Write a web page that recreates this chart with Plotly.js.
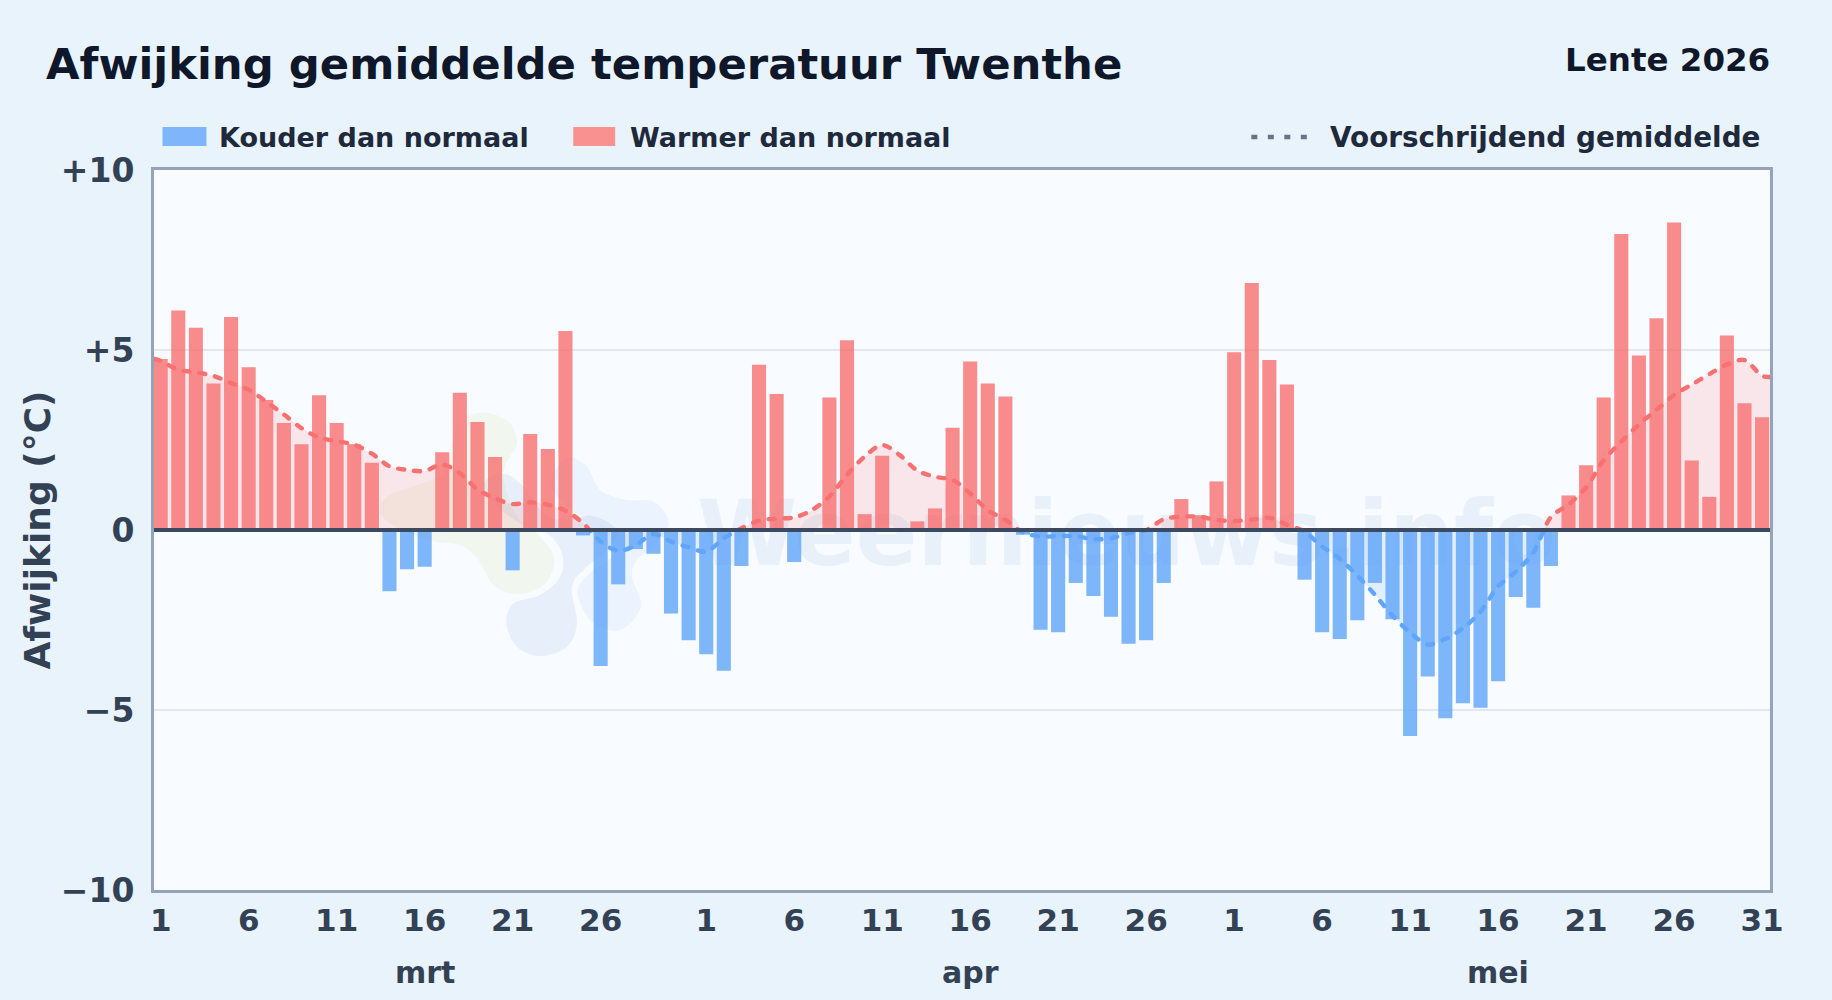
<!DOCTYPE html>
<html>
<head>
<meta charset="utf-8">
<script src="https://cdn.plot.ly/plotly-3.0.1.min.js"></script>
<style>
html,body{margin:0;padding:0;background:#e9f3fc;width:1832px;height:1000px;overflow:hidden}
#chart{width:1832px;height:1000px}
.scatterlayer .js-line{stroke-linecap:round}
</style>
</head>
<body>
<div id="chart"></div>
<script>
// ---- data ----
const devMrt = [4.75,6.10,5.62,4.07,5.92,4.52,3.61,2.97,2.38,3.74,2.97,2.38,1.87,-1.70,-1.09,-1.02,2.16,3.81,3.00,2.03,-1.12,2.67,2.25,5.53,-0.15,-3.78,-1.51,-0.53,-0.66,-2.32,-3.06];
const devApr = [-3.45,-3.91,-1.00,4.59,3.78,-0.89,0,3.68,5.27,0.44,2.06,0,0.24,0.60,2.84,4.68,4.07,3.71,-0.13,-2.77,-2.84,-1.47,-1.83,-2.41,-3.16,-3.06,-1.47,0.86,0.41,1.35];
const devMei = [4.94,6.86,4.72,4.04,-1.38,-2.84,-3.03,-2.51,-1.47,-2.48,-5.72,-4.07,-5.23,-4.81,-4.94,-4.20,-1.86,-2.16,-1.00,0.96,1.80,3.68,8.22,4.85,5.88,8.54,1.93,0.92,5.40,3.52,3.13];
const avgMrt = [4.70,4.45,4.38,4.28,4.08,3.90,3.56,3.21,2.83,2.57,2.47,2.37,2.12,1.77,1.67,1.64,1.82,1.58,1.13,0.88,0.72,0.77,0.70,0.54,0.19,-0.32,-0.58,-0.42,-0.11,-0.32,-0.48];
const avgApr = [-0.60,-0.23,0.05,0.26,0.32,0.35,0.55,0.93,1.53,2.04,2.36,2.08,1.65,1.48,1.39,1.02,0.55,0.28,-0.07,-0.18,-0.17,-0.17,-0.26,-0.23,-0.09,0,0.30,0.37,0.37,0.28];
const avgMei = [0.25,0.29,0.34,0.15,-0.05,-0.46,-0.80,-1.27,-1.80,-2.38,-2.85,-3.18,-3.03,-2.73,-2.27,-1.57,-1.16,-0.63,0.36,0.71,1.18,1.94,2.46,2.93,3.34,3.75,4.04,4.33,4.60,4.72,4.28];
const avgLeftEdge = 4.75, avgRightEdge = 4.25;
const xTickDays = [1,6,11,16,21,26,1,6,11,16,21,26,1,6,11,16,21,26,31];
const xTickIdx  = [0,5,10,15,20,25,31,36,41,46,51,56,61,66,71,76,81,86,91];
const months = ["mrt","apr","mei"];
const monthIdx = [15,46,76];
const yTicks = [10,5,0,-5,-10];
const yLabels = ["+10","+5","0","\u22125","\u221210"];
const seriesNames = ["Kouder dan normaal","Warmer dan normaal","Voorschrijdend gemiddelde"];
// ---- styling ----
const W=1832,H=1000,L=153.5,R=1770.5,T=170,B=890;
const XMIN=-0.38,XMAX=91.45;
const FONT='"DejaVu Sans", sans-serif';
const INK='#334155',LEG='#1e293b',TITLE='#0f172a';
const BLUE='#60a5fa',RED='#f87171';
const px=x=>(x-L)/(R-L), py=y=>(B-y)/(B-T);

const dev=[...devMrt,...devApr,...devMei];
const avg=[avgLeftEdge,...avgMrt,...avgApr,...avgMei,avgRightEdge];
const idx=dev.map((_,i)=>i);
const avgX=[XMIN,...idx,XMAX];

function blob(points,fill){
  // closed smooth outline through points given in crop coordinates of the logo
  const P=points.map(p=>[px(360+p[0]/3),py(390+p[1]/3)]);
  const n=P.length;let d=`M${P[0][0]},${P[0][1]}`;
  for(let i=0;i<n;i++){
    const a=P[(i-1+n)%n],b=P[i],c=P[(i+1)%n],e=P[(i+2)%n];
    d+=`C${b[0]+(c[0]-a[0])/6},${b[1]+(c[1]-a[1])/6} ${c[0]-(e[0]-b[0])/6},${c[1]-(e[1]-b[1])/6} ${c[0]},${c[1]}`;
  }
  return {type:'path',xref:'paper',yref:'paper',layer:'below',path:d+'Z',fillcolor:fill,line:{width:0}};
}
const rect=(x0,y0,x1,y1,fill)=>({type:'rect',xref:'paper',yref:'paper',layer:'above',x0:px(x0),x1:px(x1),y0:py(y0),y1:py(y1),fillcolor:fill,line:{width:0}});

const shapes=[
  {type:'rect',xref:'paper',yref:'paper',layer:'below',x0:0,x1:1,y0:0,y1:1,fillcolor:'#f8fbff',line:{width:0}},
  blob([[370,68],[445,95],[470,160],[440,215],[430,270],[470,380],[540,440],[582,510],[550,585],[470,612],[400,585],[355,510],[300,465],[225,455],[120,420],[60,370],[80,320],[170,285],[250,250],[275,170],[300,95]],'rgba(190,220,120,0.13)'),
  blob([[620,205],[680,230],[720,300],[800,330],[880,335],[925,400],[880,470],[830,510],[815,560],[842,650],[780,720],[700,700],[660,640],[655,590],[700,540],[760,490],[700,420],[620,350],[570,280]],'rgba(147,197,253,0.13)'),
  blob([[430,252],[490,290],[560,380],[640,385],[700,378],[770,420],[740,480],[680,530],[635,590],[650,700],[620,770],[540,798],[470,770],[438,700],[460,640],[540,615],[600,560],[605,490],[560,430],[480,400],[400,340],[370,280]],'rgba(100,150,210,0.11)'),
  {type:'rect',xref:'paper',yref:'paper',layer:'below',x0:px(700),x1:px(1553),y0:py(572),y1:py(480),fillcolor:'rgba(0,0,0,0)',line:{width:0},
   label:{text:'<b>Weernieuws.info</b>',textposition:'middle center',font:{family:FONT,size:91,color:'rgba(80,130,200,0.09)'}}},
  {type:'line',xref:'paper',yref:'y',layer:'above',x0:0,x1:1,y0:0,y1:0,line:{color:'#3b4a60',width:4}},
  rect(162,127,206,146,'#7fb6fb'),
  rect(573,127,615,146,'#fa9191'),
  {type:'line',xref:'paper',yref:'paper',layer:'above',x0:px(1251.5),x1:px(1308),y0:py(137),y1:py(137),line:{color:'#64748b',width:4.5,dash:'6px,10.5px'}}
];

const note=(text,x,y,size,color,anchor,xref)=>({text:`<b>${text}</b>`,x:xref?x:px(x),xref:xref||'paper',y:py(y),yref:'paper',xanchor:anchor,yanchor:'middle',showarrow:false,font:{family:FONT,size,color}});
const annotations=[
  note('Lente 2026',1773,60,32.5,TITLE,'right'),
  note(seriesNames[0],217,138,27,LEG,'left'),
  note(seriesNames[1],628,138,27,LEG,'left'),
  note(seriesNames[2],1328,138,27.85,LEG,'left'),
  ...months.map((m,i)=>note(m,monthIdx[i],972,30,INK,'center','x'))
];

const avgLine=(yaxis,color,fill)=>({type:'scatter',mode:'lines',x:avgX,y:avg,xaxis:'x',yaxis,name:seriesNames[2],showlegend:false,hoverinfo:'skip',
  line:{color,width:4.4,shape:'spline',smoothing:0.9,dash:'6px,10px'},fill:'tozeroy',fillcolor:fill});
const data=[
  avgLine('y2',RED,'rgba(248,113,113,0.15)'),
  avgLine('y3',BLUE,'rgba(96,165,250,0.15)'),
  {type:'bar',name:seriesNames[0],x:idx,y:dev.map(v=>v<0?v:null),xaxis:'x',yaxis:'y4',marker:{color:BLUE,line:{width:0}},opacity:0.8,width:0.8,showlegend:false},
  {type:'bar',name:seriesNames[1],x:idx,y:dev.map(v=>v>0?v:null),xaxis:'x',yaxis:'y4',marker:{color:RED,line:{width:0}},opacity:0.8,width:0.8,showlegend:false}
];
const layout={
  width:W,height:H,autosize:false,
  margin:{l:L,r:W-R,t:T,b:H-B,pad:0},
  paper_bgcolor:'#e9f3fc',plot_bgcolor:'rgba(0,0,0,0)',
  barmode:'overlay',showlegend:false,
  font:{family:FONT},
  title:{text:'<b>Afwijking gemiddelde temperatuur Twenthe</b>',x:46/W,xref:'container',xanchor:'left',y:1-64/H,yref:'container',yanchor:'middle',font:{family:FONT,size:43.35,color:TITLE}},
  xaxis:{range:[XMIN,XMAX],tickmode:'array',tickvals:xTickIdx,ticktext:xTickDays.map(d=>`<b>${d}</b>`),tickfont:{family:FONT,size:31,color:INK},ticks:'',ticklabelstandoff:1,showgrid:false,zeroline:false,showline:true,mirror:true,linecolor:'#94a3b8',linewidth:3},
  yaxis:{range:[-10,10],tickmode:'array',tickvals:yTicks,ticktext:yLabels.map(d=>`<b>${d}</b>`),tickfont:{family:FONT,size:33,color:INK},ticks:'',ticklabelstandoff:10,showgrid:true,gridcolor:'#e2e8f0',gridwidth:2,zeroline:false,showline:true,mirror:true,linecolor:'#94a3b8',linewidth:3,
    title:{text:'<b>Afwijking (\u00b0C)</b>',font:{family:FONT,size:36,color:INK},standoff:0}},
  yaxis2:{domain:[0.5,1],range:[0,10],anchor:'x',visible:false,fixedrange:true},
  yaxis3:{domain:[0,0.5],range:[-10,0],anchor:'x',visible:false,fixedrange:true},
  yaxis4:{domain:[0,1],range:[-10,10],anchor:'x',visible:false,fixedrange:true},
  shapes,annotations
};
Plotly.newPlot('chart',data,layout,{displayModeBar:false,responsive:false});
</script>
</body>
</html>
